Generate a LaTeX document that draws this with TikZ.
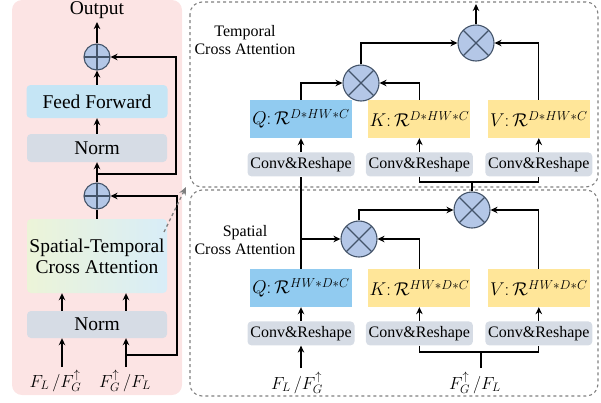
\RequirePackage{fix-cm}
\documentclass[tikz,border=0pt]{standalone}
\usepackage{fontspec}
\setmainfont{Liberation Serif}
\usetikzlibrary{arrows.meta, positioning, calc}
\definecolor{panelpink}{RGB}{252,228,228}
\definecolor{normgray}{RGB}{214,220,229}
\definecolor{ffblue}{RGB}{197,229,245}
\definecolor{qblue}{RGB}{145,203,240}
\definecolor{kvyellow}{RGB}{255,230,153}
\definecolor{circfill}{RGB}{180,199,231}
\definecolor{circedge}{RGB}{68,84,106}
\definecolor{dashgray}{RGB}{128,128,128}
\definecolor{stcagreen}{RGB}{236,244,216}
\definecolor{stcablue}{RGB}{216,237,248}

\begin{document}
\begin{tikzpicture}[
  x=1pt, y=-1pt,
  font=\fontsize{19.5}{21}\selectfont,
  box/.style={rectangle, rounded corners=4pt, align=center, inner sep=0pt},
  normbox/.style={box, fill=normgray, minimum width=140pt, minimum height=28pt},
  ffbox/.style={box, fill=ffblue, minimum width=141pt, minimum height=33pt},
  convbox/.style={box, fill=normgray, minimum width=107pt, minimum height=24pt,
                  font=\fontsize{16}{18}\selectfont},
  qbox/.style={rectangle, fill=qblue, minimum width=102pt, minimum height=38pt,
               inner sep=0pt, font=\fontsize{18.5}{20}\selectfont},
  kvbox/.style={qbox, fill=kvyellow},
  opcirc/.style={circle, draw=circedge, fill=circfill, line width=1.1pt, inner sep=0pt},
  plusop/.style={opcirc, minimum size=26pt,
    path picture={\draw[circedge, line width=1.1pt]
      (path picture bounding box.north) -- (path picture bounding box.south)
      (path picture bounding box.west) -- (path picture bounding box.east);}},
  mulop/.style={opcirc, minimum size=36pt,
    path picture={\draw[circedge, line width=1.1pt]
      (path picture bounding box.north west) -- (path picture bounding box.south east)
      (path picture bounding box.north east) -- (path picture bounding box.south west);}},
  arrow/.style={-{Stealth[length=7pt, width=6.5pt]}, line width=1.3pt},
  wire/.style={line width=1.3pt},
  attbox/.style={draw=dashgray, dashed, line width=1.1pt, rounded corners=12pt},
  linkarrow/.style={-{Stealth[length=8pt, width=7pt]}, dashed, draw=dashgray, line width=1.3pt},
  lbl/.style={font=\fontsize{16}{18}\selectfont, align=center, inner sep=0pt},
  inlbl/.style={inner sep=0pt, font=\fontsize{17.5}{19}\selectfont},
]
  \useasboundingbox (0,0) rectangle (601,402);

  % panels
  \fill[panelpink, rounded corners=10pt] (12,0) rectangle (182,395);
  \draw[attbox] (190,2) rectangle (598,187);
  \draw[attbox] (190,190) rectangle (598,396);

  % left column
  \node (outlbl) at (97,10) {Output};
  \node[plusop] (plusA) at (97,57) {};
  \node[ffbox] (ff) at (97,101.5) {Feed Forward};
  \node[normbox] (norm1) at (97,148) {Norm};
  \node[plusop] (plusB) at (97,196) {};
  \node[box, minimum width=140pt, minimum height=74pt, left color=stcagreen,
        right color=stcablue] (stca) at (97,256) {Spatial-Temporal\\Cross Attention};
  \node[normbox, minimum height=27pt] (norm2) at (97,324.5) {Norm};
  \node[inlbl] (in1) at (55.5,381) {$F_L\,/F_G^{\uparrow}$};
  \node[inlbl] (in2) at (125,381) {$F_G^{\uparrow}\,/F_L$};

  \coordinate (a1) at (62,367);
  \coordinate (a2) at (126,367);
  \coordinate (r1) at (177,355);
  \coordinate (r2) at (176,174);
  \draw[arrow] (a1) -- (a1 |- norm2.south);
  \draw[arrow] (a2) -- (a2 |- norm2.south);
  \draw[arrow] (a1 |- norm2.north) -- (a1 |- stca.south);
  \draw[arrow] (a2 |- norm2.north) -- (a2 |- stca.south);
  \draw[wire] (stca.north) -- (plusB.south);
  \draw[arrow] (plusB.north) -- (norm1.south);
  \draw[arrow] (norm1.north) -- (ff.south);
  \draw[arrow] (ff.north) -- (plusA.south);
  \draw[arrow] (plusA.north) -- (outlbl.south);
  \draw[arrow] (a2 |- r1) -- (r1) |- (plusB.east);
  \draw[arrow] (plusB.north |- r2) -- (r2) |- (plusA.east);

  % temporal cross attention
  \node[lbl] (tlbl) at (245,40) {Temporal\\Cross Attention};
  \node[qbox] (tq) at (301,119) {$Q{:}\,\mathcal{R}^{D{*}HW{*}C}$};
  \node[kvbox, right=16pt of tq] (tk) {$K{:}\,\mathcal{R}^{D{*}HW{*}C}$};
  \node[kvbox, right=17pt of tk] (tv) {$V{:}\,\mathcal{R}^{D{*}HW{*}C}$};
  \node[convbox, below=14pt of tq] (tcq) {Conv\&Reshape};
  \node[convbox, below=14pt of tk] (tck) {Conv\&Reshape};
  \node[convbox, below=14pt of tv] (tcv) {Conv\&Reshape};
  \node[mulop] (tm1) at (361,83) {};
  \node[mulop] (tm2) at (476,43) {};
  \coordinate (tout) at (476,4);
  \coordinate (tj) at (472,182);

  \draw[arrow] (tcq.north) -- (tq.south);
  \draw[arrow] (tck.north) -- (tk.south);
  \draw[arrow] (tcv.north) -- (tv.south);
  \draw[arrow] (tq.north) |- (tm1.west);
  \draw[arrow] (tk.north) |- (tm1.east);
  \draw[arrow] (tm1.north) |- (tm2.west);
  \draw[arrow] (tv.north) |- (tm2.east);
  \draw[arrow] (tm2.north) -- (tout);

  % spatial cross attention
  \node[lbl] (slbl) at (245,240) {Spatial\\Cross Attention};
  \node[qbox] (sq) at (301,288) {$Q{:}\,\mathcal{R}^{HW{*}D{*}C}$};
  \node[kvbox, right=16pt of sq] (sk) {$K{:}\,\mathcal{R}^{HW{*}D{*}C}$};
  \node[kvbox, right=17pt of sk] (sv) {$V{:}\,\mathcal{R}^{HW{*}D{*}C}$};
  \node[convbox, below=14pt of sq] (scq) {Conv\&Reshape};
  \node[convbox, below=14pt of sk] (sck) {Conv\&Reshape};
  \node[convbox, below=14pt of sv] (scv) {Conv\&Reshape};
  \node[mulop] (sm1) at (359,239) {};
  \node[mulop] (sm2) at (472,210) {};
  \node[inlbl] (sin1) at (297,383) {$F_L\,/F_G^{\uparrow}$};
  \node[inlbl] (sin2) at (475,383) {$F_G^{\uparrow}\,/F_L$};
  \coordinate (b1) at (301,368);
  \coordinate (b2) at (481,368);
  \coordinate (sj) at (481,352);

  \draw[arrow] (b1) -- (scq.south);
  \draw[arrow] (scq.north) -- (sq.south);
  \draw[arrow] (sck.north) -- (sk.south);
  \draw[arrow] (scv.north) -- (sv.south);
  \draw[wire] (sq.north) -- (tcq.south);
  \draw[arrow] (sq.north |- sm1.west) -- (sm1.west);
  \draw[arrow] (sk.north) |- (sm1.east);
  \draw[arrow] (sm1.north) |- (sm2.west);
  \draw[arrow] (sv.north) |- (sm2.east);
  \draw[wire] (sm2.north) -- (tj);
  \draw[wire] (tck.south) |- (tj) -| (tcv.south);
  \draw[wire] (sck.south) |- (sj) -| (scv.south);
  \draw[wire] (b2) -- (sj);

  % link from left block to the detail view
  \coordinate (lk1) at (164,232);
  \coordinate (lk2) at (186,187);
  \draw[linkarrow] (lk1) -- (lk2);
\end{tikzpicture}
\end{document}
